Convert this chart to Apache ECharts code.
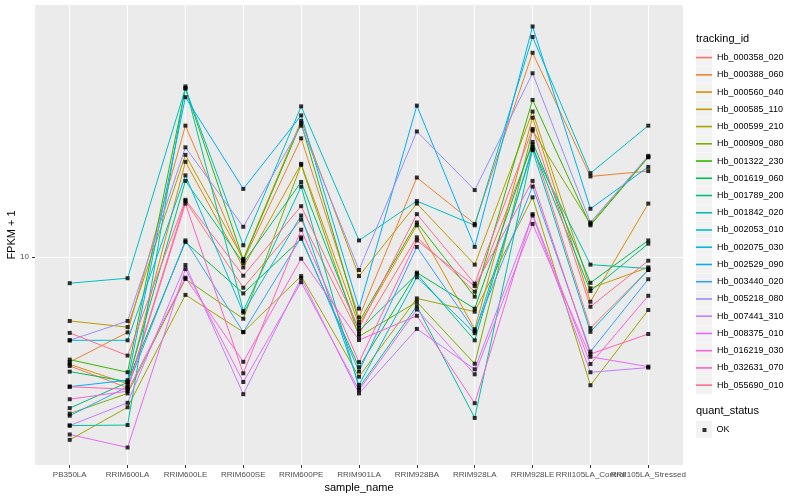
<!DOCTYPE html>
<html><head><meta charset="utf-8">
<script src="https://cdn.jsdelivr.net/npm/echarts@6/dist/echarts.min.js"></script>
<style>html,body{margin:0;padding:0;background:#fff}#c{width:800px;height:500px}</style>
</head><body><div id="c"></div>
<script>
const samples = ['PB350LA','RRIM600LA','RRIM600LE','RRIM600SE','RRIM600PE','RRIM901LA','RRIM928BA','RRIM928LA','RRIM928LE','RRII105LA_Control','RRII105LA_Stressed'];
const trackingIds = ['Hb_000358_020','Hb_000388_060','Hb_000560_040','Hb_000585_110','Hb_000599_210','Hb_000909_080','Hb_001322_230','Hb_001619_060','Hb_001789_200','Hb_001842_020','Hb_002053_010','Hb_002075_030','Hb_002529_090','Hb_003440_020','Hb_005218_080','Hb_007441_310','Hb_008375_010','Hb_016219_030','Hb_032631_070','Hb_055690_010'];
const colors = ['#F8766D','#EA8331','#D89000','#C09B00','#A3A500','#7CAE00','#39B600','#00BB4E','#00BF7D','#00C1A3','#00BFC4','#00BAE0','#00B0F6','#35A2FF','#9590FF','#C77CFF','#E76BF3','#FA62DB','#FF62BC','#FF6C91'];
const yTicks = [10];

// FPKM + 1 per sample (order of samples)
const Hb_000358_020 = [5.34, 4.71, 13.8, 8.38, 12.4, 6.42, 11.2, 8.19, 19.1, 6.64, 9.28];
const Hb_000388_060 = [5.46, 6.48, 21.3, 9.77, 19.8, 7.06, 15.8, 12.1, 32.4, 15.9, 16.4];
const Hb_000560_040 = [5.39, 4.82, 17.3, 9.42, 17.1, 6.76, 12.0, 6.60, 22.3, 7.73, 13.6];
const Hb_000585_110 = [6.92, 6.68, 18.0, 9.89, 21.9, 8.96, 13.6, 9.57, 23.1, 8.35, 9.42];
const Hb_000599_210 = [3.49, 4.21, 8.04, 6.49, 8.96, 5.02, 7.88, 7.30, 14.1, 4.78, 7.37];
const Hb_000909_080 = [4.06, 4.56, 8.81, 7.01, 17.0, 6.33, 7.72, 5.41, 20.7, 12.1, 17.8];
const Hb_001322_230 = [5.54, 5.15, 26.4, 9.83, 21.6, 6.88, 12.2, 7.96, 24.7, 12.0, 17.75];
const Hb_001619_060 = [5.17, 4.88, 10.9, 8.11, 11.1, 5.30, 9.14, 7.43, 19.4, 8.62, 11.0];
const Hb_001789_200 = [4.19, 4.86, 15.5, 9.66, 15.4, 6.53, 9.07, 6.19, 18.8, 8.22, 10.8];
const Hb_001842_020 = [3.79, 3.80, 26.7, 7.33, 15.0, 4.71, 7.54, 3.96, 18.6, 9.57, 9.36];
const Hb_002053_010 = [8.60, 8.85, 26.4, 10.7, 23.8, 11.0, 13.8, 12.0, 35.5, 16.2, 21.3];
const Hb_002075_030 = [6.19, 6.19, 16.0, 7.26, 12.7, 4.79, 8.90, 6.45, 18.5, 6.50, 9.28];
const Hb_002529_090 = [4.74, 4.92, 25.1, 14.8, 22.6, 7.43, 23.9, 10.6, 37.7, 13.2, 16.8];
const Hb_003440_020 = [4.01, 4.74, 11.0, 6.49, 11.2, 5.17, 10.6, 6.53, 15.0, 5.80, 8.80];
const Hb_005218_080 = [6.19, 6.92, 18.8, 11.9, 21.3, 9.28, 20.6, 14.7, 28.8, 12.2, 17.9];
const Hb_007441_310 = [3.79, 4.32, 9.55, 4.54, 8.85, 4.56, 6.61, 5.24, 12.7, 5.15, 5.29];
const Hb_008375_010 = [3.60, 3.34, 9.33, 4.87, 8.65, 4.65, 7.39, 5.09, 12.1, 5.63, 5.32];
const Hb_016219_030 = [4.41, 4.62, 8.88, 5.47, 9.90, 6.20, 7.13, 4.31, 12.8, 5.40, 8.00];
const Hb_032631_070 = [4.74, 4.67, 13.6, 5.12, 11.7, 5.46, 11.0, 8.46, 15.5, 5.72, 6.42];
const Hb_055690_010 = [6.46, 5.67, 13.9, 8.98, 13.4, 6.64, 12.8, 8.58, 20.9, 7.51, 9.79];

const seriesValues = [Hb_000358_020, Hb_000388_060, Hb_000560_040, Hb_000585_110, Hb_000599_210, Hb_000909_080, Hb_001322_230, Hb_001619_060, Hb_001789_200, Hb_001842_020, Hb_002053_010, Hb_002075_030, Hb_002529_090, Hb_003440_020, Hb_005218_080, Hb_007441_310, Hb_008375_010, Hb_016219_030, Hb_032631_070, Hb_055690_010];

const FONT = '"Liberation Sans", Arial, Helvetica, sans-serif';
const idx = samples.map((s, i) => i);
const idxA = idx.filter(i => i !== 9);
const idxB = [9];
const LINE_ICON = 'path://M0,0h16v1.6h-16z';

const series = trackingIds.map((id, k) => ({
  name: id, type: 'line', symbol: 'none', z: 2,
  data: seriesValues[k].map((v, i) => [i, v]),
  lineStyle: { width: 1, color: colors[k] },
  itemStyle: { color: colors[k] },
  emphasis: { disabled: true }
}));
const pts = [];
seriesValues.forEach(arr => arr.forEach((v, i) => pts.push([i, v])));
series.push({
  name: 'OK', type: 'scatter', symbol: 'rect', symbolSize: 4, z: 3,
  data: pts, itemStyle: { color: '#000' }, emphasis: { disabled: true }
});

const keyRects = trackingIds.map((id, i) => ({
  type: 'rect', z: -10, silent: true,
  shape: { x: 696, y: 48.8 + i * 17.28, width: 16, height: 17 },
  style: { fill: '#F2F2F2' }
}));
keyRects.push({ type: 'rect', z: -10, silent: true, shape: { x: 696, y: 421, width: 16, height: 17 }, style: { fill: '#F2F2F2' } });

const labelStyle = { margin: 6, fontSize: 8, color: '#4D4D4D', fontFamily: FONT, hideOverlap: false, formatter: v => samples[Math.round(v)] };

const chart = echarts.init(document.getElementById('c'), null, { renderer: 'canvas' });
chart.setOption({
  animation: false,
  textStyle: { fontFamily: FONT },
  title: [
    { text: 'tracking_id', left: 696, top: 33, padding: 0, textStyle: { fontSize: 11, fontWeight: 'normal', color: '#000', fontFamily: FONT } },
    { text: 'quant_status', left: 696, top: 405.5, padding: 0, textStyle: { fontSize: 11, fontWeight: 'normal', color: '#000', fontFamily: FONT } }
  ],
  graphic: { elements: keyRects },
  grid: { left: 35, right: 117, top: 5, bottom: 35, show: true, backgroundColor: '#EBEBEB', borderWidth: 0, containLabel: false, outerBoundsMode: 'none' },
  legend: [
    { data: trackingIds.map(n => ({ name: n, icon: LINE_ICON })), orient: 'vertical', left: 696, top: 53.1, padding: 0,
      itemWidth: 16, itemHeight: 17, itemGap: 8.24, symbolKeepAspect: true,
      selectedMode: false, textStyle: { fontSize: 9, color: '#000', fontFamily: FONT } },
    { data: [{ name: 'OK', icon: 'rect' }], orient: 'vertical', left: 702.5, top: 425.5, padding: 0, itemWidth: 4, itemHeight: 4,
      selectedMode: false, itemStyle: { color: '#000' }, textStyle: { fontSize: 9, color: '#000', fontFamily: FONT, padding: [0, 0, 0, 5] } }
  ],
  xAxis: [{
    type: 'value', min: -0.6, max: 10.6, position: 'bottom',
    name: 'sample_name', nameLocation: 'middle', nameGap: 17, nameMoveOverlap: false,
    nameTextStyle: { fontSize: 11, color: '#000', fontFamily: FONT },
    axisLine: { show: false, onZero: false },
    axisTick: { show: true, length: 3, lineStyle: { color: '#333333' }, customValues: idx },
    axisLabel: Object.assign({ customValues: idxA }, labelStyle),
    splitLine: { show: true, lineStyle: { color: '#FFFFFF', width: 1.1 } },
    minorSplitLine: { show: false }
  }, {
    type: 'value', min: -0.6, max: 10.6, position: 'bottom', offset: 0,
    axisLine: { show: false, onZero: false },
    axisTick: { show: false },
    axisLabel: Object.assign({ customValues: idxB }, labelStyle),
    splitLine: { show: false }
  }],
  yAxis: {
    type: 'log', logBase: 10, min: 3.02, max: 42.66,
    name: 'FPKM + 1', nameLocation: 'middle', nameGap: 18, nameRotate: 90, nameMoveOverlap: false,
    nameTextStyle: { fontSize: 11, color: '#000', fontFamily: FONT },
    axisLine: { show: false, onZero: false },
    axisTick: { show: true, length: 3, lineStyle: { color: '#333333' }, customValues: yTicks },
    axisLabel: { customValues: yTicks, margin: 6, fontSize: 8, color: '#4D4D4D', fontFamily: FONT, formatter: v => String(Math.round(v)) },
    splitLine: { show: true, lineStyle: { color: '#FFFFFF', width: 1.1 } }
  },
  series: series
});
</script></body></html>
